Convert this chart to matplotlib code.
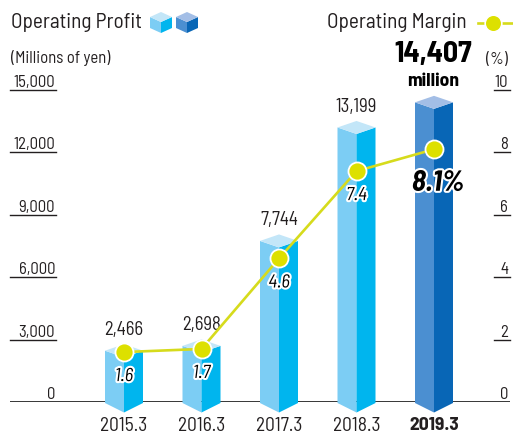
import matplotlib
matplotlib.use("Agg")
import matplotlib.pyplot as plt
import matplotlib.transforms as mtransforms
import matplotlib.patheffects as pe
from matplotlib.patches import Polygon
from matplotlib import font_manager as fm

# ---------------- data ----------------
years = ["2015.3", "2016.3", "2017.3", "2018.3", "2019.3"]
profit = [2466, 2698, 7744, 13199, 14407]
margin = [1.6, 1.7, 4.6, 7.4, 8.1]
profit_ticks = [0, 3000, 6000, 9000, 12000, 15000]
profit_tick_labels = ["0", "3,000", "6,000", "9,000", "12,000", "15,000"]
margin_ticks = [0, 2, 4, 6, 8, 10]
margin_tick_labels = ["0", "2", "4", "6", "8", "10"]
profit_labels = ["2,466", "2,698", "7,744", "13,199", ""]
margin_labels = ["1.6", "1.7", "4.6", "7.4", "8.1%"]

# ---------------- font ----------------
_avail = {f.name for f in fm.fontManager.ttflist}
def pick(cands):
    for c in cands:
        if c in _avail:
            return c
    return "DejaVu Sans"

MAIN = pick(["Barlow Semi Condensed", "Barlow Condensed", "Roboto Condensed",
             "Encode Sans Semi Condensed", "Archivo Narrow", "Liberation Sans Narrow"])
FONT = [MAIN, "DejaVu Sans"]
plt.rcParams["font.family"] = FONT

TXT = "#231f20"
LIGHT = dict(left="#7ccdf4", right="#00b5ee", top="#c3e6f8")
DARK = dict(left="#4b8fd1", right="#0866b6", top="#a3bee6")
LINE_C = "#d6db1c"
MARK_C = "#dde000"

W, H = 513, 437
fig = plt.figure(figsize=(W / 100, H / 100), dpi=100)

# axes: x px 10..510, y px 402 (0) .. 90 (15000)
x0px, x1px = 10, 510
y0px, y1px = 402, 90
c0px, step = 124, 77.5
ax = fig.add_axes([x0px / W, (H - y0px) / H, (x1px - x0px) / W, (y0px - y1px) / H])
ax.set_xlim((x0px - c0px) / step, (x1px - c0px) / step)
ax.set_ylim(0, 15000)
ax.axis("off")
ax2 = ax.twinx()
ax2.set_ylim(0, 10)
ax2.axis("off")

py = 15000 / (y0px - y1px)   # yen per pixel
px = 1 / step                 # x-units per pixel

# bottom axis line
ax.axhline(0, color="black", lw=1.1, zorder=1)

# tick labels with underlines
blend = mtransforms.blended_transform_factory(ax.transAxes, ax.transData)
lab_tr = mtransforms.offset_copy(blend, fig=fig, x=0, y=3, units="dots")
for t, lab in zip(profit_ticks, profit_tick_labels):
    if t != 0:
        ax.plot([0, 46 / 500], [t, t], color=TXT, lw=1.0, transform=blend, clip_on=False)
    ax.text(45 / 500, t, lab, transform=lab_tr, ha="right", va="baseline",
            fontsize=12, color=TXT)
blend2 = mtransforms.blended_transform_factory(ax2.transAxes, ax2.transData)
lab_tr2 = mtransforms.offset_copy(blend2, fig=fig, x=0, y=3, units="dots")
for t, lab in zip(margin_ticks, margin_tick_labels):
    if t != 0:
        ax2.plot([484 / 500, 1.0], [t, t], color=TXT, lw=1.0, transform=blend2, clip_on=False)
    ax2.text(498 / 500, t, lab, transform=lab_tr2, ha="right", va="baseline",
             fontsize=12, color=TXT)

# 3D prism bars
hw = 19 * px
dt = 6.5 * py
for i, v in enumerate(profit):
    c = DARK if i == len(profit) - 1 else LIGHT
    left = [(i - hw, v), (i, v - dt), (i, -10.5 * py), (i - hw, -1 * py)]
    right = [(i + hw, v), (i, v - dt), (i, -10.5 * py), (i + hw, -1 * py)]
    top = [(i - hw, v), (i, v + dt), (i + hw, v), (i, v - dt)]
    for pts, col in ((left, c["left"]), (right, c["right"]), (top, c["top"])):
        ax.add_patch(Polygon(pts, closed=True, facecolor=col, edgecolor="none",
                             zorder=2, clip_on=False))
    if profit_labels[i]:
        ax.annotate(profit_labels[i], (i, v + dt), xytext=(0, 5), textcoords="offset pixels",
                    ha="center", va="bottom", fontsize=13.5, color=TXT)

# x labels
for i, y in enumerate(years):
    bold = i == len(years) - 1
    ax.annotate(y, (i, 0), xytext=(0, -24), textcoords="offset pixels", ha="center",
                va="center", fontsize=14, color=TXT, fontweight="bold" if bold else "normal",
                annotation_clip=False)

# highlight label for last bar
ax.annotate("14,407", (4, profit[-1] + dt), xytext=(-1, 41), textcoords="offset pixels",
            ha="center", va="center", fontsize=21.5, fontweight="bold", color="black",
            annotation_clip=False)
ax.annotate("million", (4, profit[-1] + dt), xytext=(-1, 14), textcoords="offset pixels",
            ha="center", va="center", fontsize=14, fontweight="bold", color="black",
            annotation_clip=False)

# margin line
xs = list(range(len(margin)))
ax2.plot(xs, margin, color=LINE_C, lw=1.9, zorder=5, clip_on=False)
ax2.plot(xs, margin, ls="none", marker="o", ms=13, mfc=MARK_C, mec="white", mew=1.3,
         zorder=6, clip_on=False)
stroke = [pe.withStroke(linewidth=3, foreground="white")]
for i, (m, lab) in enumerate(zip(margin, margin_labels)):
    last = i == len(margin) - 1
    ax2.annotate(lab, (i, m), xytext=(4 if last else 0, -34 if last else -24),
                 textcoords="offset pixels", ha="center", va="center",
                 fontsize=21 if last else 13.5, style="italic",
                 fontweight="bold" if last else "normal", color="black",
                 path_effects=stroke, zorder=7)

# header texts
def fx(p):
    return p / W

def fy(p):
    return 1 - p / H

fig.text(fx(11), fy(23), "Operating Profit", ha="left", va="center", fontsize=15.3, color=TXT)
fig.text(fx(327), fy(23), "Operating Margin", ha="left", va="center", fontsize=15.3, color=TXT)
fig.text(fx(11), fy(58), "(Millions of yen)", ha="left", va="center", fontsize=12, color=TXT)
fig.text(fx(508), fy(59), "(%)", ha="right", va="center", fontsize=12, color=TXT)

# legend cube icons (figure pixel space)
def cube(cx, colors):
    top_y, mid_y, low_y, bot_y = 12, 17, 22, 33
    hl, hr = cx - 11, cx + 11
    faces = [
        ([(hl, mid_y), (cx, low_y), (cx, bot_y), (hl, bot_y - 5)], colors["left"]),
        ([(hr, mid_y), (cx, low_y), (cx, bot_y), (hr, bot_y - 5)], colors["right"]),
        ([(hl, mid_y), (cx, top_y), (hr, mid_y), (cx, low_y)], colors["top"]),
    ]
    for pts, col in faces:
        fig.patches.append(Polygon([(fx(a), fy(b)) for a, b in pts], closed=True,
                                   facecolor=col, edgecolor="none",
                                   transform=fig.transFigure, figure=fig))

cube(161, LIGHT)
cube(187, DARK)

fig.lines.append(plt.Line2D([fx(478), fx(513)], [fy(23), fy(23)], color=LINE_C, lw=1.9,
                            transform=fig.transFigure, figure=fig))
fig.lines.append(plt.Line2D([fx(493)], [fy(23)], ls="none", marker="o", ms=12,
                            mfc=MARK_C, mec="white", mew=1.2,
                            transform=fig.transFigure, figure=fig))

fig.savefig("out.png", dpi=100)
